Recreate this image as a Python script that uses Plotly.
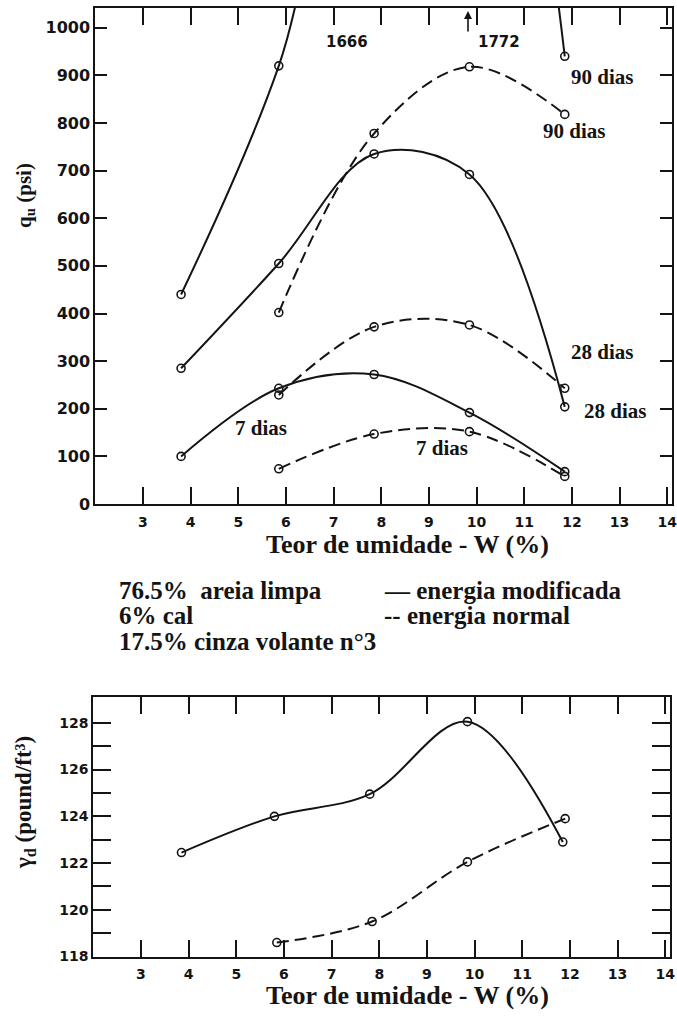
import plotly.graph_objects as go

# Moisture content (%) of the compacted specimens
w_mod = [3.8, 5.85, 7.85, 9.85, 11.85]
w_norm = [5.85, 7.85, 9.85, 11.85]

# Unconfined compressive strength qu (psi) - modified compaction energy
qu_mod_7 = [100, 243, 272, 192, 68]
qu_mod_28 = [285, 505, 735, 692, 204]
qu_mod_90 = [440, 920, 1666, 1772, 940]

# Unconfined compressive strength qu (psi) - normal compaction energy
qu_norm_7 = [74, 147, 152, 58]
qu_norm_28 = [229, 372, 376, 243]
qu_norm_90 = [402, 778, 918, 818]

# Dry unit weight (pound/ft3)
w_gd_mod = [3.85, 5.8, 7.8, 9.85, 11.85]
gd_mod = [122.45, 124.0, 124.95, 128.05, 122.9]
w_gd_norm = [5.85, 7.85, 9.85, 11.9]
gd_norm = [118.6, 119.5, 122.05, 123.9]

x_ticks = list(range(3, 15))
qu_ticks = list(range(0, 1001, 100))
gd_ticks = list(range(118, 129))
gd_text = [str(v) if v % 2 == 0 else "" for v in gd_ticks]

W, H = 677, 1025
SERIF = "Liberation Serif"
SANS = "DejaVu Sans"
INK = "#141414"


def py(p):
    """paper y from a pixel row"""
    return 1 - p / H


def px(p):
    return p / W


fig = go.Figure()


def curve(x, y, dashed, xa="x", ya="y"):
    fig.add_trace(go.Scatter(
        x=x, y=y, xaxis=xa, yaxis=ya, mode="lines+markers",
        line=dict(color=INK, width=2, shape="spline", smoothing=1.0,
                  dash="12px,6px" if dashed else "solid"),
        marker=dict(symbol="circle-open", size=8, color=INK, line=dict(width=1.6)),
        showlegend=False, hoverinfo="skip"))


curve(w_mod, qu_mod_7, False)
curve(w_mod, qu_mod_28, False)
curve(w_mod, qu_mod_90, False)
curve(w_norm, qu_norm_7, True)
curve(w_norm, qu_norm_28, True)
curve(w_norm, qu_norm_90, True)
curve(w_gd_mod, gd_mod, False, "x2", "y2")
curve(w_gd_norm, gd_norm, True, "x2", "y2")

x_left, x_right = 96, 677
tick_font = dict(family=SANS, size=14, color=INK, weight="bold")
common_x = dict(range=[2, 14.1], tickvals=x_ticks, ticks="inside", ticklen=17,
                tickwidth=2, tickcolor=INK, showline=True, linecolor=INK, linewidth=2,
                mirror="ticks", showgrid=False, zeroline=False,
                ticklabeloverflow="allow", ticklabelstandoff=4, tickfont=tick_font)
common_y = dict(ticks="inside", tickwidth=1.5, tickcolor=INK, showline=True,
                linecolor=INK, linewidth=2, mirror="ticks", showgrid=False,
                zeroline=False, ticklabeloverflow="allow")

fig.update_layout(
    width=W, height=H, margin=dict(l=0, r=0, t=0, b=0),
    paper_bgcolor="white", plot_bgcolor="white",
    xaxis=dict(domain=[px(x_left), px(x_right)], anchor="y", **common_x),
    yaxis=dict(domain=[py(509), py(8)], anchor="x", range=[0, 1041.6],
               tickvals=qu_ticks, ticklen=12,
               tickfont=dict(family=SANS, size=16, color=INK, weight="bold"),
               **common_y),
    xaxis2=dict(domain=[px(x_left - 2), px(x_right - 2)], anchor="y2", **common_x),
    yaxis2=dict(domain=[py(966), py(704)], anchor="x2", range=[118, 129.1],
                tickvals=gd_ticks, ticktext=gd_text, ticklen=18,
                tickfont=dict(family=SANS, size=14, color=INK, weight="bold"),
                **common_y),
)

lab = dict(family=SERIF, size=21, color=INK)
notes = [
    ("90 dias", 12.63, 896), ("90 dias", 12.04, 784),
    ("28 dias", 12.63, 320), ("28 dias", 12.9, 195),
    ("7 dias", 5.48, 160), ("7 dias", 9.27, 118),
]
for txt, xv, yv in notes:
    fig.add_annotation(x=xv, y=yv, xref="x", yref="y", text=f"<b>{txt}</b>",
                       xanchor="center", yanchor="middle", showarrow=False, font=lab)

# values that run off the top of the strength chart
for val, xv in [(qu_mod_90[2], 7.29), (qu_mod_90[3], 10.46)]:
    fig.add_annotation(x=xv, y=971, xref="x", yref="y", text=str(val),
                       xanchor="center", yanchor="middle", showarrow=False,
                       font=dict(family=SANS, size=15, color=INK, weight="bold"))
fig.add_annotation(x=9.82, y=1035, xref="x", yref="y", ax=0, ay=22, text="",
                   showarrow=True, arrowhead=2, arrowsize=1, arrowwidth=1.6,
                   arrowcolor=INK)

axis_title = dict(family=SERIF, size=26, color=INK)
for yp in (550, 1005):
    fig.add_annotation(x=px(411), y=py(yp), xref="paper", yref="paper",
                       xanchor="center", yanchor="middle",
                       text="<b>Teor de umidade - W (%)</b>", showarrow=False,
                       font=axis_title)

fig.add_annotation(x=px(25), y=py(197), xref="paper", yref="paper", textangle=-90,
                   xanchor="center", yanchor="middle",
                   text="<b>q<sub>u</sub> (psi)</b>", showarrow=False,
                   font=dict(family=SERIF, size=21, color=INK))
fig.add_annotation(x=px(25), y=py(810), xref="paper", yref="paper", textangle=-90,
                   xanchor="center", yanchor="middle",
                   text="<b>γ<sub>d</sub> (pound/ft³)</b>", showarrow=False,
                   font=dict(family=SERIF, size=23, color=INK))

legend_font = dict(family=SERIF, size=25, color=INK)
legend_rows = [
    ("76.5%  areia limpa", 118, 596), ("6% cal", 118, 622),
    ("17.5% cinza volante n°3", 118, 648),
    ("— energia modificada", 385, 596), ("-- energia normal", 385, 622),
]
for txt, xp, yp in legend_rows:
    fig.add_annotation(x=px(xp), y=py(yp), xref="paper", yref="paper",
                       xanchor="left", yanchor="middle", text=f"<b>{txt}</b>",
                       showarrow=False, font=legend_font)

fig.write_html("out.html")
